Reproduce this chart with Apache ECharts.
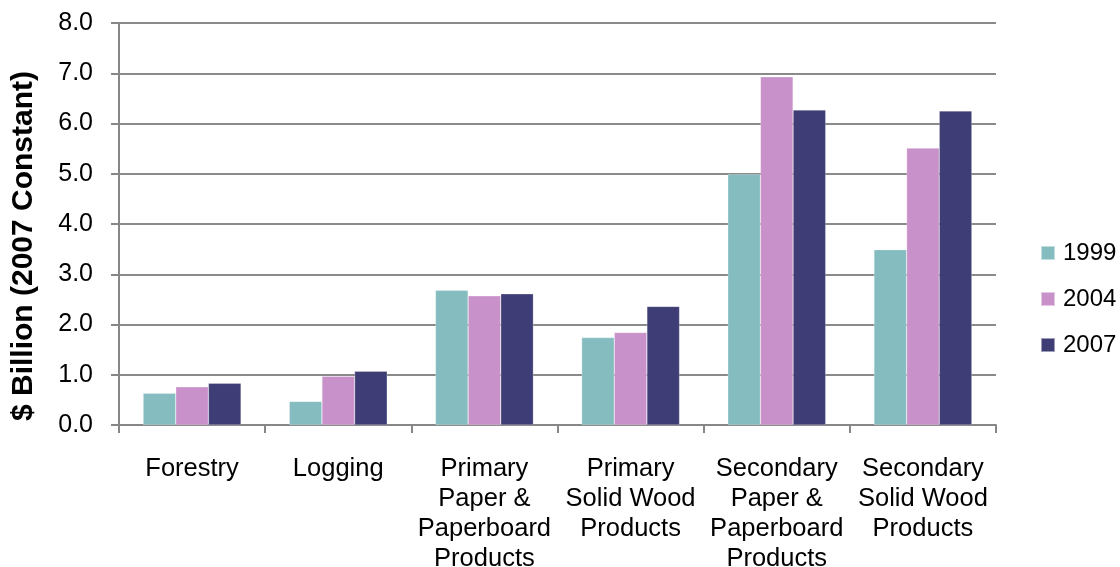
<!DOCTYPE html>
<html><head><meta charset="utf-8">
<script src="https://cdn.jsdelivr.net/npm/echarts@6/dist/echarts.min.js"></script>
<style>html,body{margin:0;padding:0;background:#fff}#c{width:1120px;height:567px}</style>
</head><body><div id="c"></div>
<script>
const categories = ['Forestry','Logging','Primary\nPaper &\nPaperboard\nProducts','Primary\nSolid Wood\nProducts','Secondary\nPaper &\nPaperboard\nProducts','Secondary\nSolid Wood\nProducts'];
const seriesNames = ['1999','2004','2007'];
const v1999 = [0.63, 0.47, 2.68, 1.74, 4.99, 3.49];
const v2004 = [0.76, 0.97, 2.57, 1.84, 6.93, 5.51];
const v2007 = [0.83, 1.07, 2.61, 2.36, 6.27, 6.25];
const colors = ['#84BCC0','#C891C9','#3E3D75'];
const yTicks = {min:0, max:8, interval:1};

const font = 'Liberation Sans, Arial, sans-serif';
const chart = echarts.init(document.getElementById('c'));
const data = [v1999, v2004, v2007];
chart.setOption({
  animation:false,
  textStyle:{fontFamily:font},
  grid:{left:119, right:124, top:23, bottom:142, containLabel:false, outerBoundsMode:'none'},
  legend:{orient:'vertical', left:1040, top:241, padding:0, itemWidth:14, itemHeight:14, itemGap:22,
    icon:'rect', textStyle:{fontSize:24, lineHeight:24, color:'#000', fontFamily:font, padding:[0,0,0,3]},
    data:seriesNames},
  xAxis:{type:'category', data:categories,
    axisLine:{lineStyle:{color:'#878787', width:2}},
    axisTick:{show:true, length:8, lineStyle:{color:'#878787', width:2}},
    axisLabel:{fontSize:25.5, color:'#000', lineHeight:30, margin:29, interval:0, fontFamily:font}},
  yAxis:{type:'value', min:yTicks.min, max:yTicks.max, interval:yTicks.interval,
    name:'$ Billion (2007 Constant)', nameLocation:'middle', nameGap:80,
    nameTextStyle:{fontSize:30, fontWeight:'bold', color:'#000', fontFamily:font, padding:[0,44,0,0]},
    axisLine:{show:true, lineStyle:{color:'#878787', width:2}},
    axisTick:{show:true, length:8, lineStyle:{color:'#878787', width:2}},
    splitLine:{lineStyle:{color:'#8a8a8a', width:2}},
    axisLabel:{fontSize:25, color:'#000', margin:26, formatter:v=>v.toFixed(1), fontFamily:font}},
  series: seriesNames.map((n,i)=>({name:n, type:'bar', data:data[i], barGap:'0%', barCategoryGap:'33%',
    itemStyle:{color:colors[i], borderColor:'rgba(255,255,255,0.5)', borderWidth:0.5}}))
});
</script></body></html>
